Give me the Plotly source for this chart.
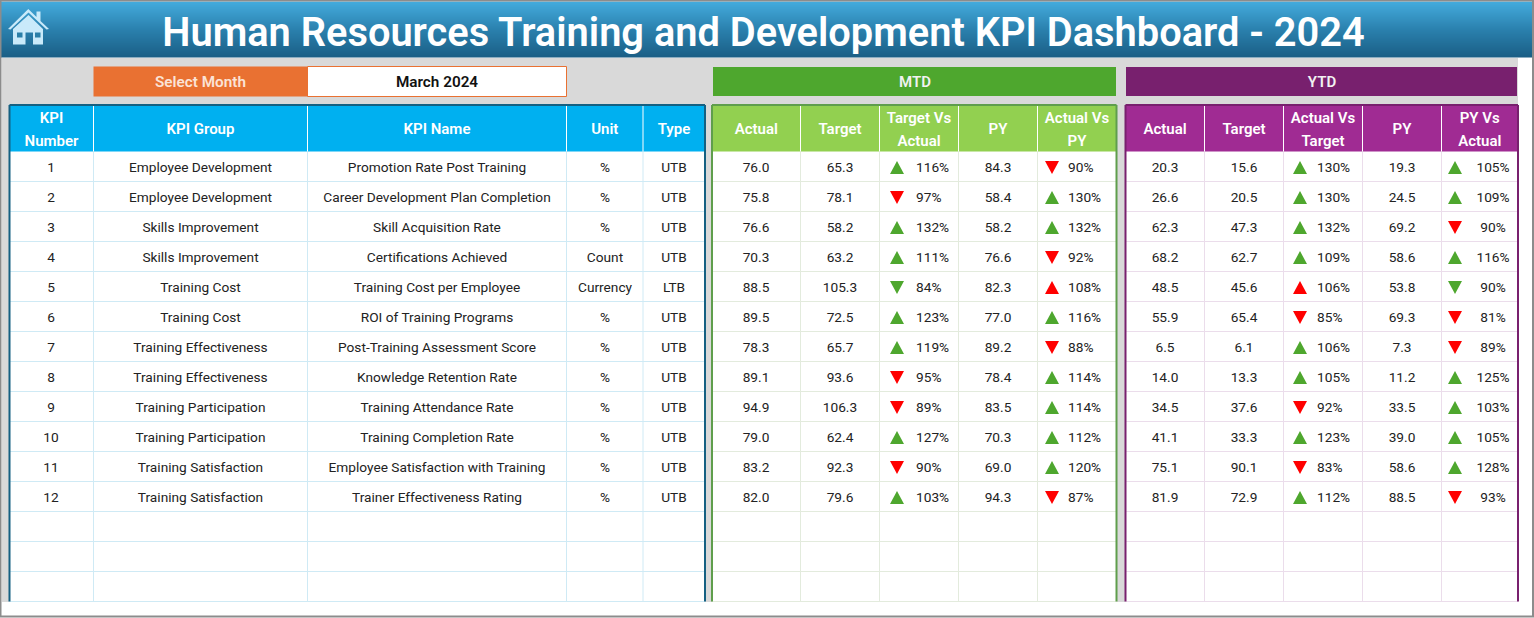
import plotly.graph_objects

kpi_numbers = list(range(1, 13))
kpi_groups = [
    "Employee Development", "Employee Development", "Skills Improvement", "Skills Improvement",
    "Training Cost", "Training Cost", "Training Effectiveness", "Training Effectiveness",
    "Training Participation", "Training Participation", "Training Satisfaction", "Training Satisfaction",
]
kpi_names = [
    "Promotion Rate Post Training", "Career Development Plan Completion", "Skill Acquisition Rate",
    "Certifications Achieved", "Training Cost per Employee", "ROI of Training Programs",
    "Post-Training Assessment Score", "Knowledge Retention Rate", "Training Attendance Rate",
    "Training Completion Rate", "Employee Satisfaction with Training", "Trainer Effectiveness Rating",
]
units = ["%", "%", "%", "Count", "Currency", "%", "%", "%", "%", "%", "%", "%"]
types = ["UTB", "UTB", "UTB", "UTB", "LTB", "UTB", "UTB", "UTB", "UTB", "UTB", "UTB", "UTB"]

mtd_actual = [76.0, 75.8, 76.6, 70.3, 88.5, 89.5, 78.3, 89.1, 94.9, 79.0, 83.2, 82.0]
mtd_target = [65.3, 78.1, 58.2, 63.2, 105.3, 72.5, 65.7, 93.6, 106.3, 62.4, 92.3, 79.6]
mtd_vs_target = [116, 97, 132, 111, 84, 123, 119, 95, 89, 127, 90, 103]
mtd_py = [84.3, 58.4, 58.2, 76.6, 82.3, 77.0, 89.2, 78.4, 83.5, 70.3, 69.0, 94.3]
mtd_vs_py = [90, 130, 132, 92, 108, 116, 88, 114, 114, 112, 120, 87]

ytd_actual = [20.3, 26.6, 62.3, 68.2, 48.5, 55.9, 6.5, 14.0, 34.5, 41.1, 75.1, 81.9]
ytd_target = [15.6, 20.5, 47.3, 62.7, 45.6, 65.4, 6.1, 13.3, 37.6, 33.3, 90.1, 72.9]
ytd_vs_target = [130, 130, 132, 109, 106, 85, 106, 105, 92, 123, 83, 112]
ytd_py = [19.3, 24.5, 69.2, 58.6, 53.8, 69.3, 7.3, 11.2, 33.5, 39.0, 58.6, 88.5]
ytd_vs_py = [105, 109, 90, 116, 90, 81, 89, 125, 103, 105, 128, 93]

title = "Human Resources Training and Development KPI Dashboard - 2024"
month = "March 2024"
kpi_headers = ["KPI<br>Number", "KPI Group", "KPI Name", "Unit", "Type"]
mtd_headers = ["Actual", "Target", "Target Vs<br>Actual", "PY", "Actual Vs<br>PY"]
ytd_headers = ["Actual", "Target", "Actual Vs<br>Target", "PY", "PY Vs<br>Actual"]

Scatter = plotly.graph_objects.Scatter
Heatmap = plotly.graph_objects.Heatmap

FONT = "Roboto"
HEADER_BOTTOM = 151.5
ROW_HEIGHT = 30
LAST_LINE = 601.5
RISE = "#4EA72E"
FALL = "#FF0000"


def row_y(nudge: float = 0, count: int = 12) -> list:
    return [HEADER_BOTTOM + ROW_HEIGHT * (i + 0.5) + nudge for i in range(count)]


def box(fig, x0, y0, x1, y1, fill, line=None, width=0):
    fig.add_shape(
        type="rect",
        x0=x0,
        y0=y0,
        x1=x1,
        y1=y1,
        fillcolor=fill,
        line={"color": line, "width": width},
        layer="below",
    )


def rule(fig, x0, y0, x1, y1, color, width=1):
    fig.add_shape(
        type="line",
        x0=x0,
        y0=y0,
        x1=x1,
        y1=y1,
        line={"color": color, "width": width},
        layer="below",
    )


def words(fig, x, y, text, color="#222222", size=13.7, weight=400, position="middle center"):
    fig.add_trace(
        Scatter(
            x=x,
            y=y,
            text=text,
            mode="text",
            textposition=position,
            textfont={"family": FONT, "size": size, "color": color, "weight": weight},
            hoverinfo="skip",
            showlegend=False,
        )
    )


def draw_header_text(fig, edges, headers):
    # two line headers sit 23 px apart, wider than plotly's own line height
    for left, right, header in zip(edges, edges[1:], headers):
        lines = header.split("<br>")
        middle = 130.5
        start = middle - 11.5 * (len(lines) - 1)
        ys = [start + 23 * i for i in range(len(lines))]
        words(fig, [(left + right) / 2] * len(lines), ys, lines, "#FFFFFF", 15, 600)


def draw_table(fig, edges, header_fill, border, grid, headers):
    left, right = edges[0], edges[-1]
    box(fig, left, 105, right, LAST_LINE, "#FFFFFF")
    box(fig, left, 105, right, HEADER_BOTTOM, header_fill)
    for i in range(1, 16):
        y = HEADER_BOTTOM + ROW_HEIGHT * i
        rule(fig, left, y, right, y, grid)
    for x in edges[1:-1]:
        rule(fig, x, 105, x, HEADER_BOTTOM, "#FFFFFF")
        rule(fig, x, HEADER_BOTTOM, x, LAST_LINE, grid)
    rule(fig, left, 105, right, 105, border, 2)
    rule(fig, left, 105, left, LAST_LINE, border, 2)
    rule(fig, right, 105, right, LAST_LINE, border, 2)
    draw_header_text(fig, edges, headers)


def draw_arrows(fig, x, values, lower_is_better):
    # plotly's triangle symbols are too flat, so each arrow is a filled path
    for y, value, low in zip(row_y(1), values, lower_is_better):
        up = value >= 100
        color = RISE if up != low else FALL
        tip = y - 6.5 if up else y + 6.5
        base = y + 6.5 if up else y - 6.5
        fig.add_trace(
            Scatter(
                x=[x - 7, x + 7, x, x - 7],
                y=[base, base, tip, base],
                mode="lines",
                fill="toself",
                fillcolor=color,
                line={"width": 0, "color": color},
                hoverinfo="skip",
                showlegend=False,
            )
        )


def percent(values):
    return [f"{value}%" for value in values]


def one_decimal(values):
    return [f"{value:.1f}" for value in values]


def draw_house(fig):
    body = "M 13 29 L 28.5 15 L 43 29 L 43 44.5 L 33 44.5 L 33 32.5 L 25.5 32.5 L 25.5 44.5 L 13 44.5 Z"
    roof = "M 8 29 L 28.3 9 L 36.5 17 L 36.5 11.5 L 40.5 11.5 L 40.5 21 L 49 29 L 46.5 29.5 L 28.5 12.5 L 10.5 29.5 Z"
    panes = "M 17 32.5 L 22.5 32.5 L 22.5 37.5 L 17 37.5 Z M 35 32.5 L 40.5 32.5 L 40.5 37.5 L 35 37.5 Z"
    fig.add_shape(type="path", path=body, fillcolor="#C9EAFA", line={"width": 0})
    fig.add_shape(type="path", path=roof, fillcolor="#C9EAFA", line={"width": 0})
    fig.add_shape(type="path", path=panes, fillcolor="#2A7FA8", line={"width": 0})


def main():
    fig = plotly.graph_objects.Figure()
    box(fig, 0, 0, 1534, 618, "#FFFFFF")
    box(fig, 2, 58, 1518, 602, "#D9D9D9")

    # title band, dark at the bottom
    fig.add_trace(
        Heatmap(
            x=[2, 1518],
            y=list(range(2, 58)),
            z=[[i, i] for i in range(56)],
            colorscale=[[0, "#43AADC"], [0.5, "#2A80AD"], [1, "#1A5E85"]],
            showscale=False,
            hoverinfo="skip",
        )
    )
    draw_house(fig)
    words(fig, [763.5], [36.5], [title], "#FFFFFF", 39.8, 600)

    box(fig, 93.5, 66.5, 307.5, 96.5, "#E97132")
    box(fig, 307.5, 66.5, 566.5, 96.5, "#FFFFFF", "#E97132", 1)
    words(fig, [200.5], [83], ["Select Month"], "#FBE3D6", 15.3, 600)
    words(fig, [437], [83], [month], "#111111", 15.3, 600)
    box(fig, 713, 67, 1116, 96, "#4EA72E")
    words(fig, [915], [83], ["MTD"], "#F2F2F2", 15, 600)
    box(fig, 1126, 67, 1517, 96, "#78206E")
    words(fig, [1322], [83], ["YTD"], "#F2F2F2", 15, 600)

    kpi_edges = [9.5, 93.5, 307.5, 566.5, 643, 705]
    mtd_edges = [712, 800.5, 879.5, 958.5, 1037.5, 1116.5]
    ytd_edges = [1125.5, 1204.5, 1283.5, 1362.5, 1441.5, 1518]
    draw_table(fig, kpi_edges, "#00B0F0", "#156082", "#CFEAF5", kpi_headers)
    draw_table(fig, mtd_edges, "#92D050", "#5F9E4C", "#E3EBDD", mtd_headers)
    draw_table(fig, ytd_edges, "#A02B93", "#78206E", "#EBDDEB", ytd_headers)

    ys = row_y(2)
    lower_is_better = [kind == "LTB" for kind in types]

    words(fig, [51] * 12, ys, kpi_numbers)
    words(fig, [200.5] * 12, ys, kpi_groups)
    words(fig, [437] * 12, ys, kpi_names)
    words(fig, [605] * 12, ys, units)
    words(fig, [674] * 12, ys, types)

    words(fig, [756] * 12, ys, one_decimal(mtd_actual))
    words(fig, [840] * 12, ys, one_decimal(mtd_target))
    words(fig, [998] * 12, ys, one_decimal(mtd_py))
    draw_arrows(fig, 897, mtd_vs_target, lower_is_better)
    draw_arrows(fig, 1052, mtd_vs_py, lower_is_better)
    words(fig, [916] * 12, ys, percent(mtd_vs_target), position="middle right")
    words(fig, [1068] * 12, ys, percent(mtd_vs_py), position="middle right")

    words(fig, [1165] * 12, ys, one_decimal(ytd_actual))
    words(fig, [1244] * 12, ys, one_decimal(ytd_target))
    words(fig, [1402] * 12, ys, one_decimal(ytd_py))
    draw_arrows(fig, 1300, ytd_vs_target, lower_is_better)
    draw_arrows(fig, 1455, ytd_vs_py, lower_is_better)
    words(fig, [1317] * 12, ys, percent(ytd_vs_target), position="middle right")
    words(fig, [1493] * 12, ys, percent(ytd_vs_py))

    # grey frame of the screenshot
    fig.add_shape(
        type="rect",
        x0=0.5,
        y0=0.5,
        x1=1533,
        y1=616.5,
        fillcolor="rgba(0,0,0,0)",
        line={"color": "#8C8C8C", "width": 2},
    )
    fig.update_layout(
        width=1534,
        height=618,
        autosize=False,
        margin={"l": 0, "r": 0, "t": 0, "b": 0},
        paper_bgcolor="#FFFFFF",
        plot_bgcolor="#FFFFFF",
        xaxis={"range": [0, 1534], "visible": False, "fixedrange": True},
        yaxis={"range": [618, 0], "visible": False, "fixedrange": True},
    )
    fig.write_html(
        "out.html",
        config={"displayModeBar": False},
        post_script="document.body.style.margin = '0';",
    )


if __name__ == "__main__":
    main()
